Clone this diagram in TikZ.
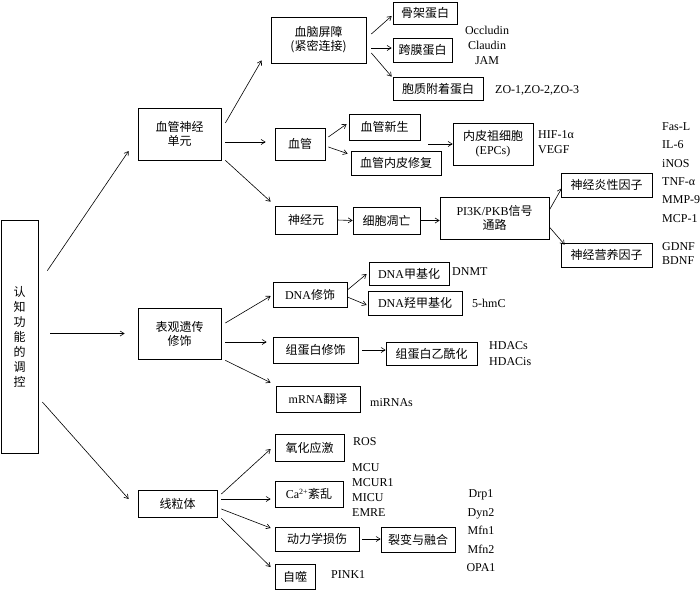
\documentclass[tikz,border=0pt]{standalone}
\usepackage{fontspec}
\setmainfont{Liberation Serif}
\newfontfamily\cjk{Noto Sans CJK SC}
\usetikzlibrary{arrows.meta}
\usetikzlibrary{calc}

\begin{document}
\begin{tikzpicture}[x=1pt, y=-1pt,
    box/.style={draw, line width=0.7pt, inner sep=0pt, align=center, font=\cjk\fontsize{12}{14}\selectfont},
    lbl/.style={inner sep=0pt, align=left, font=\fontsize{12}{15}\selectfont},
    arr/.style={-{Straight Barb[length=4pt,width=5pt]}, line width=0.6pt}]

    \useasboundingbox (0,0) rectangle (700,591);

    \node[box, minimum width=37, minimum height=233, font=\cjk\fontsize{12}{15}\selectfont] (cog) at (19.5,336.5) {认\\知\\功\\能\\的\\调\\控};

    \node[box, minimum width=83, minimum height=52] (nvu) at (179.5,134) {血管神经\\单元};
    \node[box, minimum width=83, minimum height=51] (epi) at (179.5,333.5) {表观遗传\\修饰};
    \node[box, minimum width=79, minimum height=27] (mito) at (177.5,503.5) {线粒体};

    % vascular branch
    \node[box, minimum width=95, minimum height=46] (bbb) at (318.5,40) {血脑屏障\\(紧密连接)};
    \node[box, minimum width=50, minimum height=32] (vessel) at (300,144) {血管};
    \node[box, minimum width=62, minimum height=28] (neuron) at (306,220) {神经元};

    \node[box, minimum width=64, minimum height=22] (skel) at (425,13) {骨架蛋白};
    \node[box, minimum width=59, minimum height=24] (trans) at (422.5,50) {跨膜蛋白};
    \node[box, minimum width=90, minimum height=23] (cyto) at (438,88.5) {胞质附着蛋白};
    \node[lbl, align=center] (tjp) at (487,45) {Occludin\\Claudin\\JAM};
    \node[lbl, anchor=west] (zo) at (495,90) {ZO-1,ZO-2,ZO-3};

    \node[box, minimum width=71, minimum height=26] (angio) at (384.5,127) {血管新生};
    \node[box, minimum width=90, minimum height=24] (repair) at (396,163) {血管内皮修复};
    \coordinate (vsplit) at (428,144);
    \node[box, minimum width=80, minimum height=42] (epc) at (493,144) {内皮祖细胞\\{\rmfamily (EPCs)}};
    \node[lbl, anchor=west] (hif) at (538,142.5) {HIF-1α\\VEGF};

    \node[box, minimum width=67, minimum height=27] (apop) at (386.5,220.5) {细胞凋亡};
    \node[box, minimum width=109, minimum height=42] (pi3k) at (494.5,218) {{\rmfamily PI3K/PKB}信号\\通路};
    \node[box, minimum width=91, minimum height=24] (inflam) at (606.5,185) {神经炎性因子};
    \node[box, minimum width=91, minimum height=24] (troph) at (606.5,255) {神经营养因子};
    \node[lbl, anchor=west, font=\fontsize{12}{18.3}\selectfont] (cyt) at (662,172.5) {Fas-L\\IL-6\\iNOS\\TNF-α\\MMP-9\\MCP-1};
    \node[lbl, anchor=west, font=\fontsize{12}{14}\selectfont] (nf) at (662,254) {GDNF\\BDNF};

    % epigenetic branch
    \node[box, minimum width=74, minimum height=25] (dnamod) at (310,294.5) {{\rmfamily DNA}修饰};
    \node[box, minimum width=85, minimum height=26] (histmod) at (315.5,350) {组蛋白修饰};
    \node[box, minimum width=84, minimum height=26] (mrna) at (318,399) {{\rmfamily mRNA}翻译};
    \node[box, minimum width=80, minimum height=23] (methyl) at (409,273.5) {{\rmfamily DNA}甲基化};
    \node[box, minimum width=94, minimum height=24] (hydroxy) at (415,303) {{\rmfamily DNA}羟甲基化};
    \node[box, minimum width=91, minimum height=23] (acetyl) at (431.5,353.5) {组蛋白乙酰化};
    \node[lbl, anchor=west] (dnmt) at (452,272) {DNMT};
    \node[lbl, anchor=west] (hmc) at (472,303) {5-hmC};
    \node[lbl, anchor=west, font=\fontsize{12}{16}\selectfont] (hdac) at (489,354) {HDACs\\HDACis};
    \node[lbl, anchor=west] (mir) at (370,403) {miRNAs};

    % mitochondria branch
    \node[box, minimum width=69, minimum height=27] (oxid) at (309.5,447.5) {氧化应激};
    \node[box, minimum width=68, minimum height=26] (calc) at (309,494) {{\rmfamily Ca\textsuperscript{2+}}紊乱};
    \node[box, minimum width=84, minimum height=24] (dyn) at (317,539) {动力学损伤};
    \node[box, minimum width=40, minimum height=25] (auto) at (295,576.5) {自噬};
    \node[box, minimum width=74, minimum height=25] (fis) at (418,539.5) {裂变与融合};
    \node[lbl, anchor=west] (ros) at (353,442) {ROS};
    \node[lbl, anchor=west, font=\fontsize{12}{15.3}\selectfont] (mcu) at (352,490) {MCU\\MCUR1\\MICU\\EMRE};
    \node[lbl, align=center, font=\fontsize{12}{18.5}\selectfont] (drp) at (481,531) {Drp1\\Dyn2\\Mfn1\\Mfn2\\OPA1};
    \node[lbl, anchor=west] (pink) at (331,575) {PINK1};

    \draw[arr] ($(cog.north east)+(9,51)$) -- ($(nvu.west)+(-9,17)$);
    \draw[arr, shorten <=12pt, shorten >=13pt] (cog.east |- epi.west) -- (epi.west);
    \draw[arr] ($(cog.east)+(4,65.5)$) -- ($(mito.west)+(-9,-4.5)$);

    \draw[arr] ($(nvu.east)+(4,-11)$) -- ($(bbb.south west)+(-9,-3)$);
    \draw[arr, shorten <=4pt, shorten >=9pt] ($(nvu.east)+(0,8)$) -- ($(vessel.west)+(0,-2)$);
    \draw[arr] ($(nvu.south east)+(4,0)$) -- ($(neuron.north west)+(-4,-4)$);

    \draw[arr] ($(bbb.east)+(5,-6)$) -- ($(skel.west)+(-1,3)$);
    \draw[arr] ($(bbb.east)+(5,8)$) -- ($(trans.west)+(-1,-2)$);
    \draw[arr] ($(bbb.east)+(5,13)$) -- ($(cyto.north west)+(-1,0)$);

    \draw[arr] ($(vessel.east)+(3,-7)$) -- ($(angio.west)+(-2,-3)$);
    \draw[arr] ($(vessel.east)+(3,3)$) -- ($(repair.north west)+(-3,3)$);
    \draw[arr] (vsplit) -- (epc.west);

    \draw[arr] (neuron.east) -- (apop.west);
    \draw[arr] (apop.east) -- (apop.east -| pi3k.west);
    \draw[arr] ($(pi3k.east)+(0,-8)$) -- ($(inflam.south west)+(1,-9)$);
    \draw[arr] ($(pi3k.east)+(0,9)$) -- ($(troph.north west)+(4,2)$);

    \draw[arr] ($(epi.east)+(4,-10.5)$) -- ($(dnamod.west)+(-2,1.5)$);
    \draw[arr] ($(epi.east)+(4,8.5)$) -- ($(histmod.west)+(-6,-8)$);
    \draw[arr] ($(epi.south east)+(4,1)$) -- ($(mrna.north west)+(-5,-3)$);
    \draw[arr] ($(dnamod.east)+(0,-4.5)$) -- ($(methyl.west)+(-2,0.5)$);
    \draw[arr] ($(dnamod.east)+(0,2.5)$) -- ($(hydroxy.west)+(-1,2)$);
    \draw[arr, shorten <=4pt] (histmod.east) -- (histmod.east -| acetyl.west);

    \draw[arr] ($(mito.east)+(4,-9.5)$) -- ($(oxid.west)+(-4,1.5)$);
    \draw[arr] ($(mito.east)+(4,-4.5)$) -- ($(calc.west)+(-4,5)$);
    \draw[arr] ($(mito.east)+(4,5.5)$) -- ($(dyn.west)+(-4,-11)$);
    \draw[arr] ($(mito.south east)+(4,1)$) -- ($(auto.west)+(-4,-9.5)$);
    \draw[arr, shorten <=3pt] (dyn.east) -- (dyn.east -| fis.west);

\end{tikzpicture}
\end{document}
